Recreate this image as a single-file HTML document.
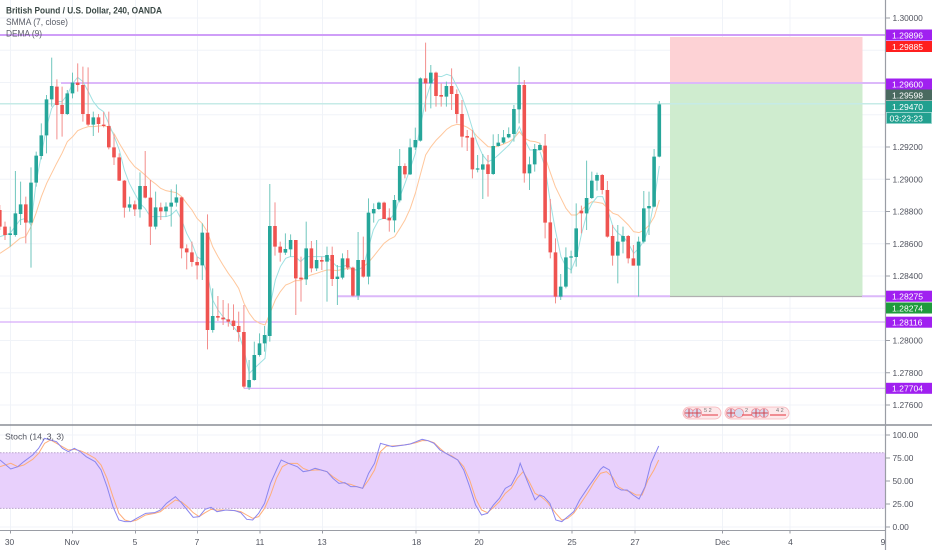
<!DOCTYPE html>
<html><head><meta charset="utf-8"><style>
html,body{margin:0;padding:0;background:#fff;}
svg{display:block;font-family:"Liberation Sans",Arial,sans-serif;}
</style></head><body>
<svg width="932" height="550" viewBox="0 0 932 550" xmlns="http://www.w3.org/2000/svg">
<rect x="0" y="0" width="932" height="550" fill="#fff"/>
<!-- grid -->
<g stroke="#f0f3f8" stroke-width="1">
<path d="M0 18H885M0 50.3H885M0 82.5H885M0 114.8H885M0 147H885M0 179.3H885M0 211.5H885M0 243.8H885M0 276H885M0 308.3H885M0 340.5H885M0 372.8H885M0 405H885"/>
<path d="M0 435H885M0 458H885M0 481H885M0 504H885M0 527H885"/>
<path d="M10.5 0V530M72.5 0V530M135.5 0V530M197.5 0V530M260 0V530M322.5 0V530M416 0V530M479 0V530M572 0V530M635 0V530M722.5 0V530M790 0V530"/>
</g>
<!-- position tool -->
<rect x="670" y="37" width="192.5" height="46" fill="#fdd2d5"/>
<rect x="670" y="83" width="192.5" height="213.5" fill="#cfeccf"/>
<path d="M670 296.5H862.5" stroke="#b0b0b0" stroke-width="1.2"/>
<!-- horizontal lines -->
<path d="M0 35H885" stroke="#cf9ef8" stroke-width="2"/>
<path d="M61 83H885" stroke="#dcb8fa" stroke-width="2"/>
<path d="M0 103.8H885" stroke="#c6ebe7" stroke-width="1.5"/>
<path d="M337 296.3H670" stroke="#dcb8fa" stroke-width="2"/>
<path d="M862 296.3H885" stroke="#dcb8fa" stroke-width="2"/>
<path d="M0 322H885" stroke="#d6acf9" stroke-width="1.2"/>
<path d="M244 388.3H885" stroke="#d6acf9" stroke-width="1.2"/>
<!-- moving averages -->
<g fill="none" stroke-width="1" vector-effect="non-scaling-stroke">
<g transform="translate(0,40) scale(0.33333)">
<polyline vector-effect="non-scaling-stroke" stroke="#ffc79c" points="0,640 30,620 60,595 77,590 93,560 108,520 124,470 140,430 155,400 170,370 186,340 202,305 218,290 233,272 249,265 265,260 280,260 296,258 311,257 326,262 343,282 358,310 373,335 388,360 404,380 420,392 435,405 451,420 467,432 482,445 498,452 513,455 529,458 545,470 560,490 576,510 591,535 606,550 622,575 638,620 654,650 669,675 685,700 700,720 716,745 732,790 748,820 763,840 779,850 795,855 810,820 826,780 841,755 857,735 870,730"/>
<polyline vector-effect="non-scaling-stroke" stroke="#9fe1e2" points="0,590 15,585 30,580 45,560 60,540 77,535 93,555 108,430 124,345 140,260 155,205 170,185 186,185 202,165 218,130 233,112 249,125 265,155 280,185 296,205 311,215 326,250 343,290 358,330 373,390 388,430 404,460 420,490 435,505 451,530 467,530 482,530 498,530 513,525 529,510 545,540 560,580 576,610 591,650 606,660 622,700 638,780 654,810 669,830 685,845 700,860 716,880 732,930 748,1000 763,985 779,970 795,955 810,800 826,720 841,680 857,655 870,650"/>
</g>
<g transform="translate(280,40) scale(0.33333)">
<polyline vector-effect="non-scaling-stroke" stroke="#ffc79c" points="30,730 46,722 62,722 77,712 93,705 110,700 124,695 140,690 156,690 171,692 187,688 203,685 219,688 234,690 250,680 265,668 280,650 296,630 312,610 328,598 344,590 360,565 375,540 391,505 406,460 422,400 437,345 453,320 469,300 484,285 500,268 515,258 531,253 546,255 562,262 577,272 592,290 608,305 624,320 640,322 655,318 671,312 687,305 702,295 718,275 734,295 750,303 765,305 781,310"/>
<polyline vector-effect="non-scaling-stroke" stroke="#9fe1e2" points="30,650 46,650 62,665 77,650 93,650 110,650 140,650 156,665 171,680 187,680 203,675 219,690 234,690 250,680 265,625 280,570 296,540 312,535 328,540 344,520 360,470 375,430 391,385 406,340 422,255 437,180 453,130 469,108 484,110 500,103 515,108 531,140 546,170 562,215 577,265 592,310 608,345 624,365 640,358 655,345 671,330 687,315 702,295 718,260 734,300 750,330 765,330 781,330"/>
</g>
<g transform="translate(540,40) scale(0.33333)">
<polyline vector-effect="non-scaling-stroke" stroke="#ffc79c" points="0,312 15,350 30,395 46,440 63,475 78,505 94,525 110,525 125,510 141,495 156,485 172,487 188,490 203,505 219,520 234,525 250,540 265,555 281,575 297,578 313,570 328,555 343,530 358,480"/>
<polyline vector-effect="non-scaling-stroke" stroke="#9fe1e2" points="0,335 15,380 30,480 46,570 63,650 78,680 94,690 110,650 125,580 141,520 156,490 172,470 188,470 203,510 219,560 234,580 250,590 265,610 281,640 297,625 313,600 328,560 343,480 358,378"/>
</g>
</g>
<!-- candles -->
<g transform="translate(0,40) scale(1,0.33333)">
<path fill="#6fc6bd" d="M9.7 560h1V620h-1zM14.9 393h1V590h-1zM20.1 425h1V555h-1zM30.5 382h1V683h-1zM35.7 335h1V440h-1zM40.8 250h1V358h-1zM46.0 165h1V340h-1zM51.2 53h1V200h-1zM66.8 150h1V225h-1zM72.0 98h1V175h-1zM92.8 215h1V288h-1zM129.1 470h1V515h-1zM139.5 397h1V533h-1zM155.1 455h1V568h-1zM165.5 487h1V530h-1zM170.7 448h1V560h-1zM175.9 433h1V500h-1zM201.8 550h1V720h-1zM212.2 745h1V878h-1zM248.6 960h1V1050h-1zM253.8 905h1V1022h-1zM259.0 880h1V950h-1zM264.1 858h1V935h-1zM269.3 432h1V905h-1zM284.9 580h1V645h-1zM290.1 583h1V650h-1zM305.7 545h1V735h-1zM316.1 600h1V693h-1zM326.5 620h1V785h-1zM336.9 675h1V795h-1zM342.0 640h1V718h-1zM357.6 576h1V780h-1zM368.0 475h1V733h-1zM373.2 490h1V548h-1zM378.4 485h1V510h-1zM394.0 465h1V577h-1zM399.2 327h1V487h-1zM409.6 296h1V405h-1zM414.8 263h1V330h-1zM419.9 112h1V305h-1zM430.3 75h1V205h-1zM445.9 125h1V200h-1zM477.1 345h1V397h-1zM482.3 342h1V477h-1zM492.7 283h1V405h-1zM497.8 282h1V320h-1zM503.0 270h1V312h-1zM508.2 262h1V295h-1zM513.4 195h1V305h-1zM518.6 80h1V250h-1zM529.0 350h1V450h-1zM534.2 312h1V395h-1zM539.4 310h1V332h-1zM560.2 702h1V780h-1zM565.4 622h1V745h-1zM570.6 632h1V700h-1zM575.7 490h1V680h-1zM586.1 362h1V570h-1zM591.3 395h1V477h-1zM596.5 398h1V452h-1zM617.3 555h1V730h-1zM622.5 560h1V640h-1zM638.1 590h1V770h-1zM643.3 453h1V610h-1zM648.5 455h1V585h-1zM653.6 327h1V502h-1zM658.8 183h1V352h-1z"/>
<path fill="#f38e8c" d="M-0.7 495h1V570h-1zM4.5 545h1V600h-1zM25.3 470h1V610h-1zM56.4 118h1V298h-1zM61.6 140h1V290h-1zM77.2 70h1V155h-1zM82.4 80h1V245h-1zM87.6 82h1V258h-1zM98.0 222h1V278h-1zM103.2 216h1V262h-1zM108.3 215h1V328h-1zM113.5 283h1V375h-1zM118.7 340h1V423h-1zM123.9 420h1V533h-1zM134.3 482h1V528h-1zM144.7 333h1V475h-1zM149.9 420h1V615h-1zM160.3 488h1V540h-1zM181.1 470h1V655h-1zM186.2 613h1V688h-1zM191.4 605h1V680h-1zM196.6 650h1V718h-1zM207.0 523h1V928h-1zM217.4 768h1V843h-1zM222.6 780h1V855h-1zM227.8 790h1V860h-1zM233.0 793h1V870h-1zM238.2 815h1V905h-1zM243.4 795h1V1045h-1zM274.5 487h1V647h-1zM279.7 605h1V665h-1zM295.3 600h1V825h-1zM300.5 650h1V785h-1zM310.9 603h1V697h-1zM321.3 650h1V690h-1zM331.7 620h1V738h-1zM347.2 630h1V690h-1zM352.4 680h1V770h-1zM362.8 590h1V713h-1zM383.6 485h1V537h-1zM388.8 505h1V575h-1zM404.4 370h1V415h-1zM425.1 8h1V215h-1zM435.5 95h1V200h-1zM440.7 130h1V200h-1zM451.1 85h1V210h-1zM456.3 148h1V250h-1zM461.5 180h1V322h-1zM466.7 270h1V333h-1zM471.9 270h1V415h-1zM487.5 345h1V470h-1zM523.8 120h1V428h-1zM544.6 282h1V595h-1zM549.8 477h1V655h-1zM555.0 595h1V790h-1zM580.9 497h1V580h-1zM601.7 402h1V463h-1zM606.9 423h1V593h-1zM612.1 555h1V677h-1zM627.7 585h1V670h-1zM632.9 615h1V677h-1z"/>
<path fill="#26a69a" d="M8.4 580h3.6V585h-3.6zM13.6 520h3.6V585h-3.6zM18.8 493h3.6V522h-3.6zM29.2 428h3.6V548h-3.6zM34.4 347h3.6V428h-3.6zM39.5 286h3.6V348h-3.6zM44.7 178h3.6V286h-3.6zM49.9 138h3.6V178h-3.6zM65.5 160h3.6V222h-3.6zM70.7 128h3.6V160h-3.6zM91.5 232h3.6V254h-3.6zM127.8 493h3.6V503h-3.6zM138.2 438h3.6V508h-3.6zM153.8 502h3.6V560h-3.6zM164.2 500h3.6V514h-3.6zM169.4 488h3.6V500h-3.6zM174.6 472h3.6V488h-3.6zM200.5 578h3.6V676h-3.6zM210.9 828h3.6V870h-3.6zM247.3 1020h3.6V1042h-3.6zM252.5 945h3.6V1020h-3.6zM257.7 910h3.6V945h-3.6zM262.8 885h3.6V910h-3.6zM268.0 558h3.6V888h-3.6zM283.6 627h3.6V638h-3.6zM288.8 600h3.6V628h-3.6zM304.4 625h3.6V718h-3.6zM314.8 660h3.6V685h-3.6zM325.2 645h3.6V665h-3.6zM335.6 710h3.6V717h-3.6zM340.7 655h3.6V713h-3.6zM356.3 660h3.6V767h-3.6zM366.7 518h3.6V710h-3.6zM371.9 507h3.6V520h-3.6zM377.1 488h3.6V507h-3.6zM392.7 480h3.6V541h-3.6zM397.9 378h3.6V481h-3.6zM408.3 322h3.6V403h-3.6zM413.5 300h3.6V322h-3.6zM418.6 115h3.6V302h-3.6zM429.0 98h3.6V130h-3.6zM444.6 138h3.6V170h-3.6zM475.8 385h3.6V389h-3.6zM481.0 373h3.6V389h-3.6zM491.4 318h3.6V402h-3.6zM496.5 308h3.6V318h-3.6zM501.7 292h3.6V308h-3.6zM506.9 282h3.6V292h-3.6zM512.1 207h3.6V282h-3.6zM517.3 135h3.6V208h-3.6zM527.7 373h3.6V400h-3.6zM532.9 327h3.6V373h-3.6zM538.1 315h3.6V330h-3.6zM558.9 740h3.6V770h-3.6zM564.1 652h3.6V740h-3.6zM569.3 649h3.6V653h-3.6zM574.4 565h3.6V651h-3.6zM584.8 474h3.6V520h-3.6zM590.0 422h3.6V474h-3.6zM595.2 405h3.6V422h-3.6zM616.0 605h3.6V647h-3.6zM621.2 588h3.6V605h-3.6zM636.8 605h3.6V677h-3.6zM642.0 505h3.6V605h-3.6zM647.2 498h3.6V505h-3.6zM652.3 350h3.6V500h-3.6zM657.5 193h3.6V350h-3.6z"/>
<path fill="#ef5350" d="M-2.0 510h3.6V560h-3.6zM3.2 560h3.6V585h-3.6zM24.0 493h3.6V548h-3.6zM55.1 140h3.6V195h-3.6zM60.3 195h3.6V222h-3.6zM75.9 128h3.6V135h-3.6zM81.1 135h3.6V222h-3.6zM86.3 222h3.6V254h-3.6zM96.7 232h3.6V252h-3.6zM101.9 254h3.6V258h-3.6zM107.0 258h3.6V322h-3.6zM112.2 322h3.6V352h-3.6zM117.4 352h3.6V422h-3.6zM122.6 422h3.6V503h-3.6zM133.0 493h3.6V508h-3.6zM143.4 438h3.6V473h-3.6zM148.6 473h3.6V560h-3.6zM159.0 502h3.6V514h-3.6zM179.8 472h3.6V625h-3.6zM184.9 625h3.6V637h-3.6zM190.1 637h3.6V666h-3.6zM195.3 666h3.6V676h-3.6zM205.7 578h3.6V870h-3.6zM216.1 828h3.6V833h-3.6zM221.3 833h3.6V838h-3.6zM226.5 838h3.6V845h-3.6zM231.7 842h3.6V858h-3.6zM236.9 858h3.6V876h-3.6zM242.1 876h3.6V1040h-3.6zM273.2 558h3.6V620h-3.6zM278.4 620h3.6V638h-3.6zM294.0 600h3.6V715h-3.6zM299.2 713h3.6V718h-3.6zM309.6 625h3.6V685h-3.6zM320.0 660h3.6V665h-3.6zM330.4 645h3.6V717h-3.6zM345.9 655h3.6V683h-3.6zM351.1 683h3.6V767h-3.6zM361.5 660h3.6V710h-3.6zM382.3 488h3.6V537h-3.6zM387.5 533h3.6V541h-3.6zM403.1 378h3.6V403h-3.6zM423.8 115h3.6V130h-3.6zM434.2 98h3.6V168h-3.6zM439.4 165h3.6V170h-3.6zM449.8 138h3.6V162h-3.6zM455.0 162h3.6V222h-3.6zM460.2 222h3.6V290h-3.6zM465.4 288h3.6V293h-3.6zM470.6 293h3.6V388h-3.6zM486.2 373h3.6V402h-3.6zM522.5 135h3.6V400h-3.6zM543.3 317h3.6V548h-3.6zM548.5 547h3.6V637h-3.6zM553.7 637h3.6V770h-3.6zM579.6 512h3.6V520h-3.6zM600.4 405h3.6V450h-3.6zM605.6 450h3.6V590h-3.6zM610.8 588h3.6V647h-3.6zM626.4 588h3.6V655h-3.6zM631.6 655h3.6V677h-3.6z"/>
</g>
<!-- legend -->
<text x="6" y="13.5" font-size="9" font-weight="bold" fill="#3a4845" textLength="156" lengthAdjust="spacingAndGlyphs">British Pound / U.S. Dollar, 240, OANDA</text>
<text x="6" y="25" font-size="9" fill="#5a5e68" textLength="62" lengthAdjust="spacingAndGlyphs">SMMA (7, close)</text>
<text x="6" y="36.5" font-size="9" fill="#5a5e68" textLength="36" lengthAdjust="spacingAndGlyphs">DEMA (9)</text>
<!-- event icons -->
<g>
<rect x="683" y="407" width="38" height="12" rx="6" fill="#fde8ea" stroke="#f5b3b8" stroke-width="0.8"/>
<circle cx="689" cy="413" r="4.5" fill="#d9dcef" stroke="#f08c95" stroke-width="0.8"/>
<circle cx="697" cy="413" r="4.5" fill="#d9dcef" stroke="#f08c95" stroke-width="0.8"/>
<path d="M685 413h8M689 409v8M693 413h8M697 409v8" stroke="#d2454f" stroke-width="1"/>
<text x="704" y="412" font-size="5.5" fill="#777">5 2</text>
<path d="M702 415h16" stroke="#e8545e" stroke-width="1.2"/>
<rect x="725" y="407" width="64" height="12" rx="6" fill="#fde8ea" stroke="#f5b3b8" stroke-width="0.8"/>
<circle cx="731" cy="413" r="4.5" fill="#d9dcef" stroke="#f08c95" stroke-width="0.8"/>
<circle cx="739" cy="413" r="4.5" fill="#d9dcef" stroke="#f08c95" stroke-width="0.8"/>
<circle cx="756" cy="413" r="4.5" fill="#d9dcef" stroke="#f08c95" stroke-width="0.8"/>
<circle cx="764" cy="413" r="4.5" fill="#d9dcef" stroke="#f08c95" stroke-width="0.8"/>
<path d="M727 413h8M731 409v8M752 413h8M756 409v8M760 413h8M764 409v8" stroke="#d2454f" stroke-width="1"/>
<text x="745" y="412" font-size="5.5" fill="#777">2</text>
<text x="776" y="412" font-size="5.5" fill="#777">4 2</text>
<path d="M742 415h10M770 415h16" stroke="#e8545e" stroke-width="1.2"/>
</g>
<!-- stoch pane -->
<rect x="0" y="452.7" width="885" height="55.7" fill="#e8d0fc"/>
<path d="M0 452.7H885M0 508.4H885" stroke="#b9a3cc" stroke-width="1" stroke-dasharray="1.5,1.5"/>
<g transform="translate(0,420) scale(0.5945,0.33333)" fill="none">
<polyline vector-effect="non-scaling-stroke" stroke="#ffad7a" stroke-width="1" points="0,140 18,130 30,140 40,135 55,118 65,100 75,70 85,60 95,70 105,80 115,90 125,88 135,92 145,100 160,115 170,135 180,175 190,230 200,280 210,300 220,305 230,300 245,285 260,280 270,275 280,260 295,240 305,245 315,260 325,278 335,290 345,278 355,268 365,270 380,270 395,272 405,275 415,285 425,295 435,290 445,265 455,225 465,175 475,140 485,130 500,130 510,145 520,152 530,150 540,150 550,155 560,170 570,182 580,190 590,193 600,200 610,205 620,180 630,150 640,95 650,78 660,78 680,75 690,72 700,68 710,62 720,62 730,68 740,85 750,100 760,108 770,120 780,140 790,180 800,235 810,270 820,278 830,262 840,245 850,220 860,205 870,175 880,155 890,185 900,220 910,230 920,245 935,280 945,300 955,295 965,280 975,255 990,215 1000,185 1010,160 1020,155 1030,170 1040,200 1050,210 1060,215 1070,225 1080,225 1090,180 1100,150 1108,120"/>
<polyline vector-effect="non-scaling-stroke" stroke="#8a86ef" stroke-width="1" points="0,120 18,147 30,140 40,125 55,105 65,85 75,55 85,60 95,65 105,85 115,95 125,85 135,95 145,110 160,125 170,150 180,200 190,260 200,300 210,305 220,305 230,295 245,280 260,278 270,270 280,250 295,230 305,248 315,270 325,292 335,290 345,268 355,262 365,275 380,270 395,272 405,278 415,298 425,300 435,280 445,250 455,190 465,150 473,120 485,130 500,140 510,155 520,152 530,145 540,150 550,155 560,175 570,190 580,188 590,200 600,200 610,205 620,160 630,130 640,70 650,75 660,80 680,75 690,72 700,65 710,58 720,62 730,70 740,90 750,100 760,110 770,120 780,150 790,200 800,255 810,285 820,280 830,255 840,235 850,205 860,195 870,160 875,130 885,175 900,240 908,225 915,230 925,250 935,300 945,305 955,290 965,275 975,240 990,200 1000,175 1010,148 1015,140 1025,150 1035,200 1045,210 1055,210 1065,225 1075,237 1085,200 1095,130 1108,78"/>
</g>
<text x="5" y="439.5" font-size="8.5" fill="#50535e" textLength="59" lengthAdjust="spacingAndGlyphs">Stoch (14, 3, 3)</text>
<!-- separators/axes -->
<path d="M0 425H932" stroke="#8a8d96" stroke-width="1.5"/>
<path d="M0 530.5H885" stroke="#9a9da5" stroke-width="1"/>
<path d="M885.5 0V550" stroke="#9a9da5" stroke-width="1.2"/>
<!-- price axis ticks -->
<g stroke="#9a9da5" stroke-width="1">
<path d="M886 18h4M886 147h4M886 179.3h4M886 211.5h4M886 243.8h4M886 276h4M886 340.5h4M886 372.8h4M886 405h4"/>
<path d="M886 435h4M886 458h4M886 481h4M886 504h4M886 527h4"/>
<path d="M10.5 530.5v3M72.5 530.5v3M135.5 530.5v3M197.5 530.5v3M260 530.5v3M322.5 530.5v3M416 530.5v3M479 530.5v3M572 530.5v3M635 530.5v3M722.5 530.5v3M790 530.5v3"/>
</g>
<g font-size="8.4" fill="#50535e">
<text x="892.5" y="21">1.30000</text>
<text x="892.5" y="150">1.29200</text>
<text x="892.5" y="182.3">1.29000</text>
<text x="892.5" y="214.5">1.28800</text>
<text x="892.5" y="246.8">1.28600</text>
<text x="892.5" y="279">1.28400</text>
<text x="892.5" y="343.5">1.28000</text>
<text x="892.5" y="375.8">1.27800</text>
<text x="892.5" y="408">1.27600</text>
<text x="892.5" y="438">100.00</text>
<text x="892.5" y="461">75.00</text>
<text x="892.5" y="484">50.00</text>
<text x="892.5" y="507">25.00</text>
<text x="892.5" y="530">0.00</text>
</g>
<!-- price labels -->
<g font-size="8.6" fill="#fff">
<rect x="886" y="29.5" width="46" height="11" fill="#a020f0"/><text x="892" y="38.3">1.29896</text>
<rect x="886" y="41" width="46" height="11" fill="#ff1f1f"/><text x="892" y="49.8">1.29885</text>
<rect x="886" y="78.5" width="46" height="11" fill="#a020f0"/><text x="892" y="87.3">1.29600</text>
<rect x="886" y="89.5" width="46" height="11" fill="#4a6a60"/><text x="892" y="98.3">1.29598</text>
<rect x="886" y="101" width="46" height="11" fill="#22a08f"/><text x="892" y="109.8">1.29470</text>
<rect x="886.5" y="112.5" width="45" height="11" fill="#22a08f" stroke="#8fd3cb" stroke-width="0.8"/><text x="889.5" y="121.3">03:23:23</text>
<rect x="886" y="290.7" width="46" height="11" fill="#a020f0"/><text x="892" y="299.5">1.28275</text>
<rect x="886" y="302.5" width="46" height="11" fill="#1f9b3d"/><text x="892" y="311.3">1.28274</text>
<rect x="886" y="316.7" width="46" height="11" fill="#a020f0"/><text x="892" y="325.5">1.28116</text>
<rect x="886" y="382.8" width="46" height="11" fill="#a020f0"/><text x="892" y="391.6">1.27704</text>
</g>
<!-- date labels -->
<g font-size="8.4" fill="#50535e" text-anchor="middle">
<text x="9.5" y="545">30</text>
<text x="72" y="545">Nov</text>
<text x="135" y="545">5</text>
<text x="197" y="545">7</text>
<text x="260" y="545">11</text>
<text x="322" y="545">13</text>
<text x="416.5" y="545">18</text>
<text x="479" y="545">20</text>
<text x="572" y="545">25</text>
<text x="635" y="545">27</text>
<text x="722.5" y="545">Dec</text>
<text x="790.5" y="545">4</text>
<text x="883" y="545">9</text>
</g>
</svg>
</body></html>
